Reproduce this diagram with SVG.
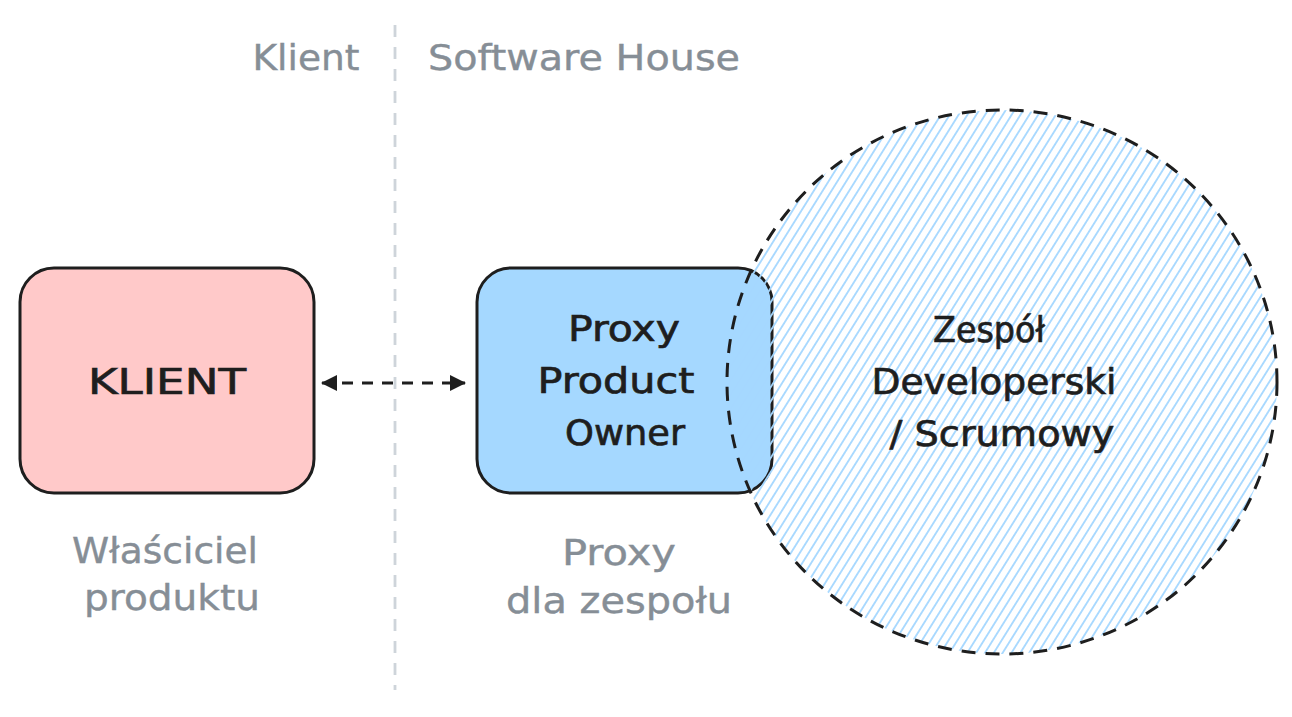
<svg xmlns="http://www.w3.org/2000/svg" width="1292" height="717" viewBox="0 0 1292 717">
<defs>
<style>
.box{stroke:#1e1e1e;stroke-width:3;}
.main{font-family:"DejaVu Sans","Liberation Sans",sans-serif;font-size:36px;fill:#1e1e1e;stroke:#1e1e1e;stroke-width:0.7;text-anchor:middle;}
.gray{font-family:"DejaVu Sans","Liberation Sans",sans-serif;font-size:36px;fill:#868e96;stroke:#868e96;stroke-width:0.4;text-anchor:middle;}
.conn{stroke:#1e1e1e;stroke-width:3;fill:none;stroke-dasharray:11 9;}
</style>
<pattern id="hatch" patternUnits="userSpaceOnUse" width="8" height="7.5" patternTransform="rotate(-58)">
<line x1="0" y1="3.75" x2="8" y2="3.75" stroke="#a5d8ff" stroke-width="1.8"/>
</pattern>
<marker id="head" viewBox="0 0 16 16" refX="15" refY="8" markerWidth="16" markerHeight="16" markerUnits="userSpaceOnUse" orient="auto-start-reverse">
<path d="M0,0 L16,8 L0,16 Z" fill="#1e1e1e"/>
</marker>
</defs>
<rect width="1292" height="717" fill="#ffffff"/>

<g id="divider">
<line x1="395" y1="25" x2="395" y2="690" stroke="#ced4da" stroke-width="2.8" stroke-dasharray="12 10"/>
</g>

<g id="header-klient">
<text class="gray" x="306" y="70" textLength="107" lengthAdjust="spacingAndGlyphs">Klient</text>
</g>
<g id="header-software-house">
<text class="gray" x="584" y="70" textLength="312" lengthAdjust="spacingAndGlyphs">Software House</text>
</g>

<g id="node-klient">
<rect class="box" x="20" y="268" width="294" height="225" rx="34" fill="#ffc9c9"/>
<text class="main" x="167" y="394" textLength="158" lengthAdjust="spacingAndGlyphs">KLIENT</text>
</g>

<g id="node-ppo">
<rect class="box" x="477" y="268" width="295" height="225" rx="34" fill="#a5d8ff"/>
</g>

<g id="node-team">
<ellipse cx="1002" cy="382" rx="275" ry="272" fill="url(#hatch)" stroke="#1e1e1e" stroke-width="3" stroke-dasharray="14 10"/>
</g>

<g id="node-ppo-text">
<text class="main" x="624" y="341" textLength="112" lengthAdjust="spacingAndGlyphs">Proxy</text>
<text class="main" x="616" y="393" textLength="157" lengthAdjust="spacingAndGlyphs">Product</text>
<text class="main" x="625" y="445" textLength="120" lengthAdjust="spacingAndGlyphs">Owner</text>
</g>

<g id="node-team-text">
<text class="main" x="989" y="342" textLength="112" lengthAdjust="spacingAndGlyphs">Zespół</text>
<text class="main" x="994" y="394" textLength="245" lengthAdjust="spacingAndGlyphs">Developerski</text>
<text class="main" x="1002" y="446" textLength="225" lengthAdjust="spacingAndGlyphs">/ Scrumowy</text>
</g>

<g id="label-wlasciciel">
<text class="gray" x="165" y="563" textLength="186" lengthAdjust="spacingAndGlyphs">Właściciel</text>
<text class="gray" x="172" y="610" textLength="176" lengthAdjust="spacingAndGlyphs">produktu</text>
</g>

<g id="label-proxy">
<text class="gray" x="619" y="565" textLength="114" lengthAdjust="spacingAndGlyphs">Proxy</text>
<text class="gray" x="619" y="613" textLength="226" lengthAdjust="spacingAndGlyphs">dla zespołu</text>
</g>

<g id="connectors">
<line class="conn" x1="322" y1="383" x2="465" y2="383" marker-start="url(#head)" marker-end="url(#head)"/>
</g>
</svg>
